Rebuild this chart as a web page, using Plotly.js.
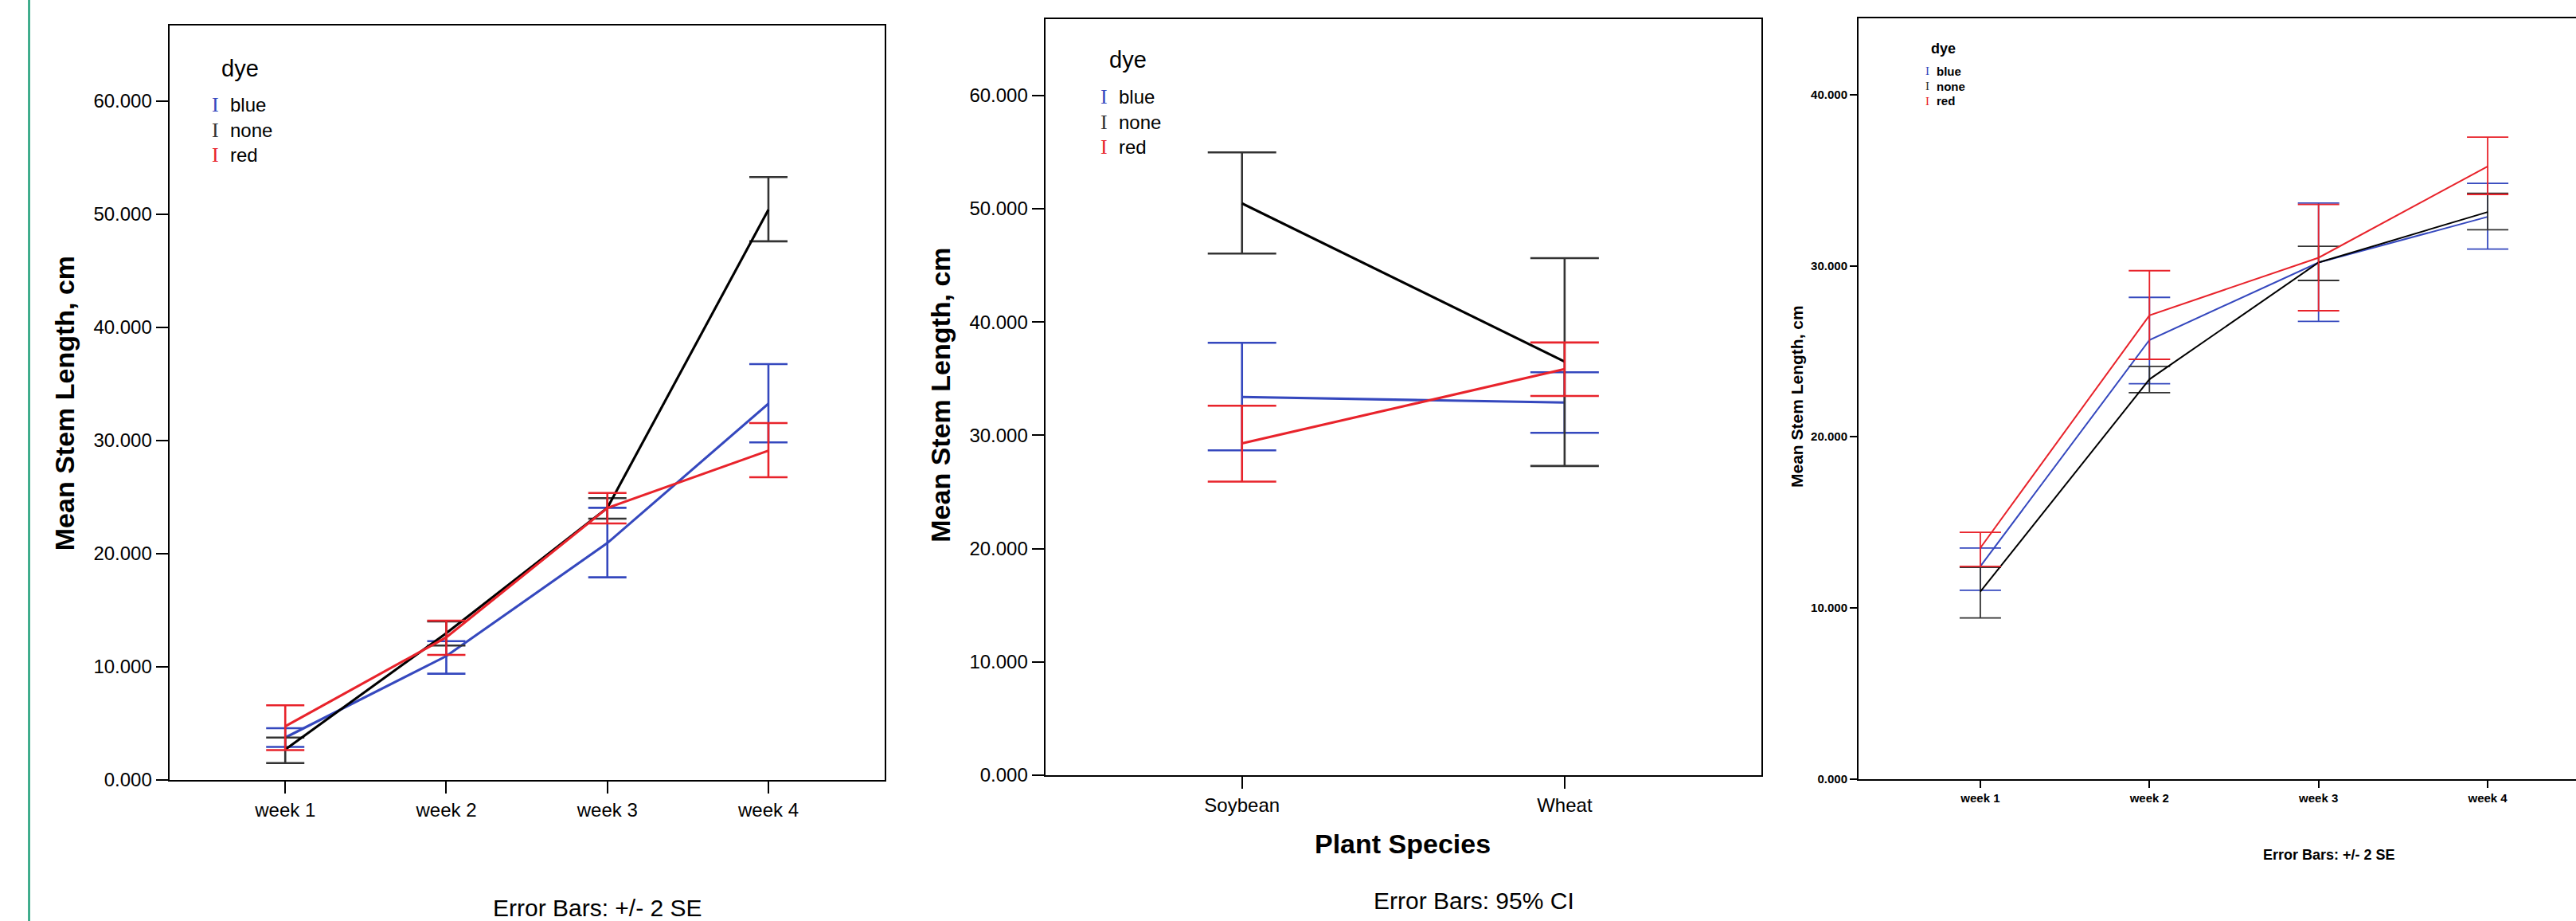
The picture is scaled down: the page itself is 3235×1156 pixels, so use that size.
<!DOCTYPE html>
<html>
<head>
<meta charset="utf-8">
<script src="https://cdn.plot.ly/plotly-3.0.1.min.js"></script>
<style>
html,body{margin:0;padding:0;background:#fff;overflow:hidden;}
#chart{width:3290px;height:1156px;}
</style>
</head>
<body>
<div id="chart"></div>
<script>
// ---------- data ----------
const weeks = ['week 1', 'week 2', 'week 3', 'week 4'];
const species = ['Soybean', 'Wheat'];
const dyes = ['blue', 'none', 'red'];

// Panel 1: mean stem length by week, Error Bars: +/- 2 SE
const p1BlueMean  = [3.75, 10.95, 20.94, 33.26];
const p1BlueUpper = [4.58, 12.27, 24.06, 36.76];
const p1BlueLower = [2.92, 9.39, 17.91, 29.84];
const p1NoneMean  = [2.70, 12.97, 24.05, 50.40];
const p1NoneUpper = [3.75, 14.01, 24.91, 53.29];
const p1NoneLower = [1.50, 11.88, 23.10, 47.61];
const p1RedMean   = [4.74, 12.61, 24.04, 29.11];
const p1RedUpper  = [6.60, 14.08, 25.37, 31.55];
const p1RedLower  = [2.64, 11.06, 22.68, 26.76];

// Panel 2: mean stem length by plant species, Error Bars: 95% CI
const p2BlueMean  = [33.38, 32.89];
const p2BlueUpper = [38.16, 35.56];
const p2BlueLower = [28.67, 30.22];
const p2NoneMean  = [50.47, 36.50];
const p2NoneUpper = [54.97, 45.64];
const p2NoneLower = [46.04, 27.29];
const p2RedMean   = [29.28, 35.84];
const p2RedUpper  = [32.61, 38.19];
const p2RedLower  = [25.91, 33.47];

// Panel 3: mean stem length by week, Error Bars: +/- 2 SE
const p3BlueMean  = [12.42, 25.66, 30.19, 32.86];
const p3BlueUpper = [13.50, 28.15, 33.66, 34.82];
const p3BlueLower = [11.03, 23.10, 26.75, 30.97];
const p3NoneMean  = [10.94, 23.36, 30.19, 33.14];
const p3NoneUpper = [12.37, 24.12, 31.14, 34.23];
const p3NoneLower = [9.41, 22.58, 29.14, 32.10];
const p3RedMean   = [13.50, 27.10, 30.47, 35.81];
const p3RedUpper  = [14.42, 29.71, 33.58, 37.52];
const p3RedLower  = [12.42, 24.53, 27.37, 34.17];

const yTitle = 'Mean Stem Length, cm';
const p1Note = 'Error Bars: +/- 2 SE';
const p2Note = 'Error Bars: 95% CI';
const p3Note = 'Error Bars: +/- 2 SE';
const p2XTitle = 'Plant Species';
const legendTitle = 'dye';

// ---------- styling ----------
const W = 3290, H = 1156;
const px = v => v / W;
const py = v => (H - v) / H;
const FONT = 'Liberation Sans, Arial, sans-serif';
const lineColors = {blue: '#3548BE', none: '#000000', red: '#E8232B'};
const errColors = {blue: '#3548BE', none: '#333333', red: '#E8232B'};

function trace(x, mean, upper, lower, dye, xa, ya, lw, ew, cap) {
  return {
    type: 'scatter', mode: 'lines', x: x, y: mean, xaxis: xa, yaxis: ya,
    name: dye, showlegend: false, hoverinfo: 'skip',
    line: {color: lineColors[dye], width: lw},
    error_y: {
      type: 'data', symmetric: false,
      array: upper.map((u, i) => u - mean[i]),
      arrayminus: lower.map((l, i) => mean[i] - l),
      color: errColors[dye], thickness: ew, width: cap
    }
  };
}

const data = [
  trace(weeks, p1BlueMean, p1BlueUpper, p1BlueLower, 'blue', 'x', 'y', 3.1, 2.6, 24),
  trace(weeks, p1NoneMean, p1NoneUpper, p1NoneLower, 'none', 'x', 'y', 3.1, 2.6, 24),
  trace(weeks, p1RedMean, p1RedUpper, p1RedLower, 'red', 'x', 'y', 3.1, 2.6, 24),
  trace(species, p2BlueMean, p2BlueUpper, p2BlueLower, 'blue', 'x2', 'y2', 3.1, 2.6, 43),
  trace(species, p2NoneMean, p2NoneUpper, p2NoneLower, 'none', 'x2', 'y2', 3.1, 2.6, 43),
  trace(species, p2RedMean, p2RedUpper, p2RedLower, 'red', 'x2', 'y2', 3.1, 2.6, 43),
  trace(weeks, p3BlueMean, p3BlueUpper, p3BlueLower, 'blue', 'x3', 'y3', 2.0, 1.8, 26),
  trace(weeks, p3NoneMean, p3NoneUpper, p3NoneLower, 'none', 'x3', 'y3', 2.0, 1.8, 26),
  trace(weeks, p3RedMean, p3RedUpper, p3RedLower, 'red', 'x3', 'y3', 2.0, 1.8, 26)
];

function xAxis(domain, range, anchor, fs, tl, bold) {
  return {
    domain: domain, anchor: anchor, type: 'category', range: range,
    showline: true, linecolor: '#000', linewidth: 2, mirror: true,
    ticks: 'outside', ticklen: tl, tickwidth: 2, tickcolor: '#000',
    tickfont: {family: FONT, size: fs, color: '#000', weight: bold ? 'bold' : 'normal'},
    showgrid: false, zeroline: false, fixedrange: true
  };
}
function yAxis(domain, range, anchor, fs, tl, bold) {
  return {
    domain: domain, anchor: anchor, range: range, tick0: 0, dtick: 10,
    tickformat: '.3f',
    showline: true, linecolor: '#000', linewidth: 2, mirror: true,
    ticks: 'outside', ticklen: tl, tickwidth: 2, tickcolor: '#000',
    tickfont: {family: FONT, size: fs, color: '#000', weight: bold ? 'bold' : 'normal'},
    showgrid: false, zeroline: false, fixedrange: true
  };
}

const annotations = [];
function txt(text, x, y, size, opts) {
  annotations.push(Object.assign({
    text: text, xref: 'paper', yref: 'paper', x: px(x), y: py(y),
    xanchor: 'center', yanchor: 'middle', showarrow: false,
    font: {family: FONT, size: size, color: '#000'}
  }, opts || {}));
}
function b(s, on) { return on ? '<b>' + s + '</b>' : s; }
function legend(titleX, titleY, titleSize, symX, textX, ys, itemSize, symSize, bold) {
  txt(b(legendTitle, bold), titleX, titleY, titleSize, {xanchor: 'left'});
  dyes.forEach((d, i) => {
    txt('I', symX, ys[i], symSize, {font: {family: 'Liberation Serif, serif', size: symSize, color: errColors[d]}});
    txt(b(d, bold), textX, ys[i], itemSize, {xanchor: 'left'});
  });
}

// Panel 1 texts
txt('<b>' + yTitle + '</b>', 80.7, 506.5, 34, {textangle: -90});
legend(276, 86, 29, 270.8, 287, [132, 163, 194], 24, 26, false);
txt(p1Note, 750, 1139, 30);
// Panel 2 texts
txt('<b>' + yTitle + '</b>', 1180.7, 496, 34, {textangle: -90});
txt('<b>' + p2XTitle + '</b>', 1761.5, 1058.7, 34);
legend(1391, 75, 29, 1386, 1402.5, [121.6, 153.3, 184.3], 24, 26, false);
txt(p2Note, 1851, 1130, 30);
// Panel 3 texts
txt('<b>' + yTitle + '</b>', 2256, 498, 21, {textangle: -90});
legend(2423, 60.5, 18, 2420.5, 2430, [89.2, 108.4, 126.8], 15, 15, true);
txt(b(p3Note, true), 2924.5, 1073.4, 18);

const layout = {
  width: W, height: H,
  margin: {l: 0, r: 0, t: 0, b: 0, pad: 0},
  paper_bgcolor: '#fff', plot_bgcolor: '#fff',
  showlegend: false,
  font: {family: FONT, color: '#000'},
  xaxis: xAxis([px(212.6), px(1110.6)], [-0.72, 3.72], 'y', 24, 15, false),
  yaxis: yAxis([py(979), py(32.4)], [0, 66.66], 'x', 24, 15, false),
  xaxis2: xAxis([px(1312.6), px(2212)], [-0.61, 1.61], 'y2', 24, 15, false),
  yaxis2: yAxis([py(973), py(24.3)], [0, 66.71], 'x2', 24, 15, false),
  xaxis3: xAxis([px(2334), px(3277)], [-0.72, 3.72], 'y3', 15, 9, true),
  yaxis3: yAxis([py(977.6), py(22.9)], [0, 44.47], 'x3', 15, 9, true),
  annotations: annotations,
  shapes: [{
    type: 'line', xref: 'paper', yref: 'paper',
    x0: px(36.5), x1: px(36.5), y0: 0, y1: 1,
    line: {color: '#1E9E78', width: 2.5}
  }]
};

Plotly.newPlot('chart', data, layout, {displayModeBar: false, staticPlot: true});
</script>
</body>
</html>
